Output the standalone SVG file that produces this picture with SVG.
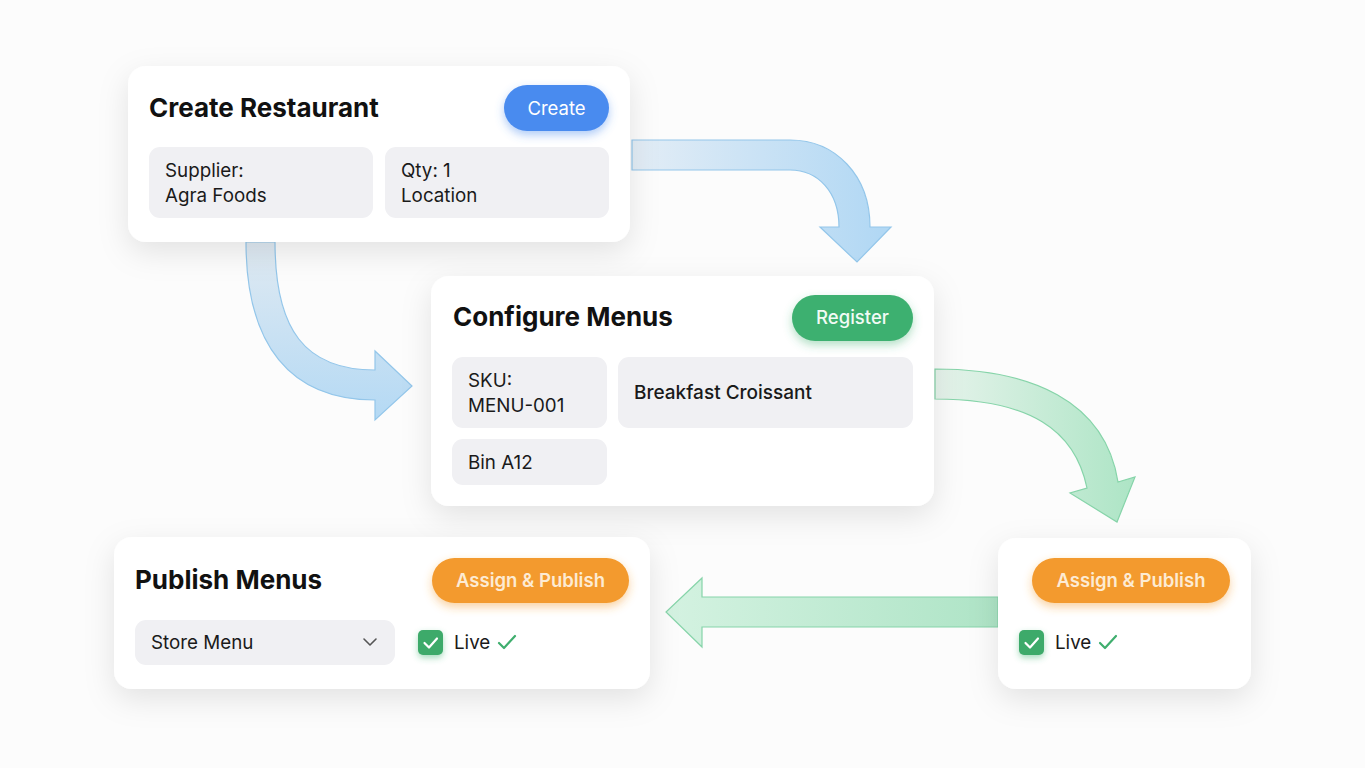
<svg xmlns="http://www.w3.org/2000/svg" width="1365" height="768" viewBox="0 0 1365 768">
<defs>
<style>
.card{fill:#ffffff;filter:url(#shadow);}
.box{fill:#F0F0F3;}
.title{font-family:Inter,"Liberation Sans",sans-serif;font-weight:700;font-size:26px;fill:#111111;}
.body{font-family:Inter,"Liberation Sans",sans-serif;font-weight:400;font-size:18.8px;fill:#1a1a1a;}
.semi{font-family:Inter,"Liberation Sans",sans-serif;font-weight:500;font-size:19px;fill:#1a1a1a;}
.btntxt{font-family:Inter,"Liberation Sans",sans-serif;font-size:18.5px;text-anchor:middle;}
.arrowB{stroke:#93C6EA;stroke-width:1.2;}
.arrowG{stroke:#86D4A9;stroke-width:1.2;}
.chk{fill:none;stroke:#ffffff;stroke-width:2.2;stroke-linecap:round;stroke-linejoin:round;}
.tick{fill:none;stroke:#3FAE6E;stroke-width:2.2;stroke-linecap:round;stroke-linejoin:round;}
</style>
<filter id="shadow" x="-20%" y="-20%" width="140%" height="160%">
<feDropShadow dx="0" dy="10" stdDeviation="15" flood-color="#000000" flood-opacity="0.10"/>
</filter>
<filter id="glowB" x="-30%" y="-40%" width="160%" height="200%">
<feDropShadow dx="0" dy="4" stdDeviation="5" flood-color="#4A8BEF" flood-opacity="0.45"/>
</filter>
<filter id="glowG" x="-30%" y="-40%" width="160%" height="200%">
<feDropShadow dx="0" dy="4" stdDeviation="5" flood-color="#3DB070" flood-opacity="0.4"/>
</filter>
<filter id="glowO" x="-30%" y="-40%" width="160%" height="200%">
<feDropShadow dx="0" dy="4" stdDeviation="5" flood-color="#F39A2E" flood-opacity="0.45"/>
</filter>
<filter id="glowC" x="-50%" y="-50%" width="200%" height="220%">
<feDropShadow dx="0" dy="3" stdDeviation="3" flood-color="#3DB070" flood-opacity="0.45"/>
</filter>
<linearGradient id="gB1" x1="632" y1="0" x2="880" y2="0" gradientUnits="userSpaceOnUse">
<stop offset="0" stop-color="#E3EDF6"/>
<stop offset="1" stop-color="#B2D8F4"/>
</linearGradient>
<linearGradient id="gB2" x1="0" y1="242" x2="0" y2="420" gradientUnits="userSpaceOnUse">
<stop offset="0" stop-color="#E0EAF2"/>
<stop offset="1" stop-color="#B4D9F4"/>
</linearGradient>
<linearGradient id="gG1" x1="935" y1="0" x2="1130" y2="0" gradientUnits="userSpaceOnUse">
<stop offset="0" stop-color="#E6F3EB"/>
<stop offset="1" stop-color="#AEE5C6"/>
</linearGradient>
<linearGradient id="gG2" x1="666" y1="0" x2="998" y2="0" gradientUnits="userSpaceOnUse">
<stop offset="0" stop-color="#D4F2E1"/>
<stop offset="1" stop-color="#AEE4C6"/>
</linearGradient>
</defs>
<rect x="0" y="0" width="1365" height="768" fill="#FCFCFC"/>

<g id="connectors">
<path class="arrowB" fill="url(#gB1)" d="M632,140 L790,140 C835,140 870,175 870,227 L891,227 L857,262 L820,227 L839,227 C839,192 818,170 790,170 L632,170 Z"/>
<path class="arrowB" fill="url(#gB2)" d="M246,242 C246,345 290,400 375,400 L375,420 L412,386 L375,351 L375,370 C305,370 275,330 275,242 Z"/>
<path class="arrowG" fill="url(#gG1)" d="M935,369 C1030,369 1105,400 1118,482 L1135,477 L1117,522 L1070,493 L1087,488 C1075,430 1030,399 935,399 Z"/>
<path class="arrowG" fill="url(#gG2)" d="M998,597 L702,597 L702,578 L666,612 L702,647 L702,627 L998,627 Z"/>
</g>

<g id="node-create-restaurant">
<rect class="card" x="128" y="66" width="502" height="176" rx="18"/>
<text class="title" x="149" y="117">Create Restaurant</text>
<rect x="504" y="85" width="105" height="46" rx="23" fill="#4A8BEF" filter="url(#glowB)"/>
<text class="btntxt" x="556.5" y="115" fill="#ffffff">Create</text>
<rect class="box" x="149" y="147" width="224" height="71" rx="11"/>
<text class="body" x="165" y="177">Supplier:</text>
<text class="body" x="165" y="202">Agra Foods</text>
<rect class="box" x="385" y="147" width="224" height="71" rx="11"/>
<text class="body" x="401" y="177">Qty: 1</text>
<text class="body" x="401" y="202">Location</text>
</g>

<g id="node-configure-menus">
<rect class="card" x="431" y="276" width="503" height="230" rx="18"/>
<text class="title" x="453" y="326">Configure Menus</text>
<rect x="792" y="295" width="121" height="46" rx="23" fill="#3DB070" filter="url(#glowG)"/>
<text class="btntxt" x="852.5" y="324" fill="#F2FBF5" font-weight="500">Register</text>
<rect class="box" x="452" y="357" width="155" height="71" rx="11"/>
<text class="body" x="468" y="387">SKU:</text>
<text class="body" x="468" y="412">MENU-001</text>
<rect class="box" x="618" y="357" width="295" height="71" rx="11"/>
<text class="semi" x="634" y="399">Breakfast Croissant</text>
<rect class="box" x="452" y="439" width="155" height="46" rx="11"/>
<text class="body" x="468" y="469">Bin A12</text>
</g>

<g id="node-publish-menus">
<rect class="card" x="114" y="537" width="536" height="152" rx="18"/>
<text class="title" x="135" y="589">Publish Menus</text>
<rect x="432" y="558" width="197" height="45" rx="22.5" fill="#F39A2E" filter="url(#glowO)"/>
<text class="btntxt" x="530.5" y="587" fill="#FDEBD3" font-weight="600">Assign &amp; Publish</text>
<rect class="box" x="135" y="620" width="260" height="45" rx="11"/>
<text class="body" x="151" y="649">Store Menu</text>
<polyline points="364,639 370,645 376,639" fill="none" stroke="#555555" stroke-width="1.6" stroke-linecap="round" stroke-linejoin="round"/>
<rect x="418" y="630" width="25" height="25" rx="5" fill="#3DAA6A" filter="url(#glowC)"/>
<polyline class="chk" points="424.5,643 429,647.5 437,638.5"/>
<text class="body" x="454" y="649">Live</text>
<polyline class="tick" points="499,643 504,648 515,636"/>
</g>

<g id="node-assign-publish">
<rect class="card" x="998" y="538" width="253" height="151" rx="18"/>
<rect x="1032" y="558" width="198" height="45" rx="22.5" fill="#F39A2E" filter="url(#glowO)"/>
<text class="btntxt" x="1131" y="587" fill="#FDEBD3" font-weight="600">Assign &amp; Publish</text>
<rect x="1019" y="630" width="25" height="25" rx="5" fill="#3DAA6A" filter="url(#glowC)"/>
<polyline class="chk" points="1025.5,643 1030,647.5 1038,638.5"/>
<text class="body" x="1055" y="649">Live</text>
<polyline class="tick" points="1100,643 1105,648 1116,636"/>
</g>
</svg>
